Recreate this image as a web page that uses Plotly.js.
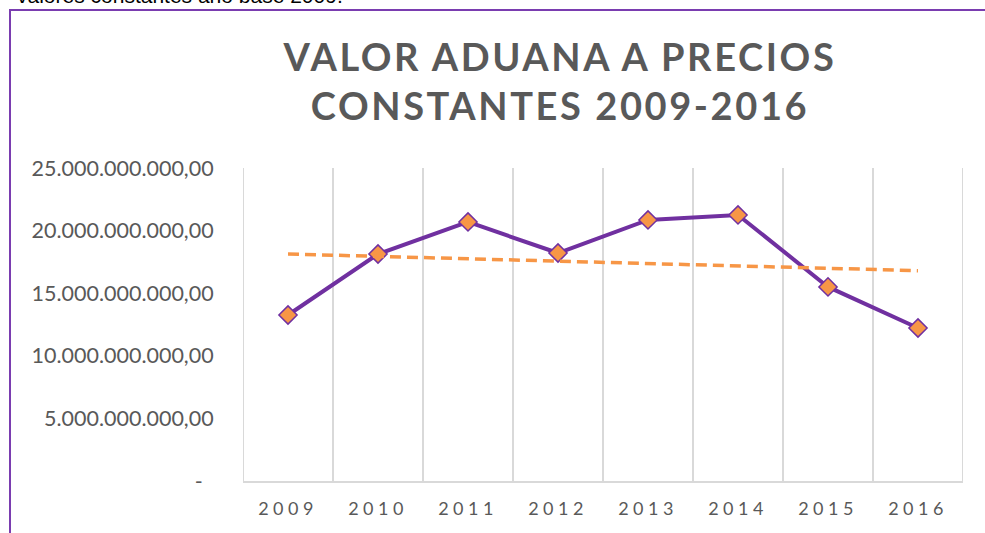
<!DOCTYPE html>
<html>
<head>
<meta charset="utf-8">
<script src="https://cdn.plot.ly/plotly-3.0.1.min.js"></script>
<style>
  html, body { margin: 0; padding: 0; background: #fff; overflow: hidden; }
  #wrap { position: relative; width: 985px; height: 533px; }
  #chart { position: absolute; left: 0; top: 0; width: 985px; height: 533px; }
  #frame { position: absolute; left: 9px; top: 9px; width: 990px; height: 540px;
           border-left: 2px solid #7a3db0; border-top: 2px solid #7a3db0; pointer-events: none; }
  #caption { position: absolute; left: 17px; top: -16px; font-family: "Liberation Sans", Arial, sans-serif;
             font-size: 21px; color: #000; white-space: nowrap; }
  .gtitle { letter-spacing: 2.6px; }
  .xtick text { letter-spacing: 4.5px; }
</style>
</head>
<body>
<div id="wrap">
  <div id="chart"></div>
  <div id="frame"></div>
  <div id="caption">valores constantes año base 2009.</div>
</div>
<script>
const years = ['2009','2010','2011','2012','2013','2014','2015','2016'];
const valorAduana = [13.26e9, 18.13e9, 20.69e9, 18.21e9, 20.85e9, 21.25e9, 15.50e9, 12.22e9];
const trendYears = ['2009','2016'];
const trendValues = [18.13e9, 16.80e9];
const yTickVals = [0, 5e9, 10e9, 15e9, 20e9, 25e9];
const yTickText = ['-\u00a0\u00a0', '5.000.000.000,00', '10.000.000.000,00', '15.000.000.000,00', '20.000.000.000,00', '25.000.000.000,00'];

const traces = [
  {
    x: years, y: valorAduana, type: 'scatter', mode: 'lines+markers',
    line: { color: '#7030a0', width: 4 },
    marker: { symbol: 'diamond', size: 14, color: '#f79646', line: { color: '#7030a0', width: 1.5 } },
    hoverinfo: 'skip'
  },
  {
    x: trendYears, y: trendValues, type: 'scatter', mode: 'lines',
    line: { color: '#f79646', width: 3.5, dash: '11px,6px' },
    hoverinfo: 'skip'
  }
];

const edgeLine = { color: '#d9d9d9', width: 2 };
const layout = {
  width: 985, height: 533,
  margin: { l: 243, r: 22, t: 168, b: 52 },
  paper_bgcolor: 'rgba(0,0,0,0)', plot_bgcolor: 'rgba(0,0,0,0)',
  showlegend: false,
  font: { family: 'Lato, "Open Sans", sans-serif', color: '#595959' },
  title: {
    text: 'VALOR ADUANA A PRECIOS<br>CONSTANTES 2009-2016',
    font: { family: 'Lato, "Open Sans", sans-serif', size: 38, weight: 'bold', color: '#595959' },
    xref: 'container', x: 560/985, xanchor: 'center',
    yref: 'container', y: 1 - 71/533, yanchor: 'top'
  },
  shapes: [
    { type: 'line', xref: 'x', yref: 'paper', x0: -0.5, x1: -0.5, y0: 0, y1: 1, line: edgeLine, layer: 'below' },
    { type: 'line', xref: 'x', yref: 'paper', x0: 7.5, x1: 7.5, y0: 0, y1: 1, line: edgeLine, layer: 'below' }
  ],
  xaxis: {
    type: 'category', range: [-0.5, 7.5],
    tickson: 'boundaries',
    showgrid: true, gridcolor: '#d9d9d9', gridwidth: 2,
    showline: true, linecolor: '#d9d9d9', linewidth: 2,
    ticks: '', ticklabelstandoff: 10,
    tickfont: { family: 'Lato, sans-serif', size: 18, color: '#595959' },
    zeroline: false, fixedrange: true
  },
  yaxis: {
    range: [0, 25e9],
    tickvals: yTickVals, ticktext: yTickText,
    showgrid: false, zeroline: false, showline: false,
    ticks: 'outside', ticklen: 24, tickcolor: 'rgba(0,0,0,0)',
    tickfont: { family: 'Lato, sans-serif', size: 21.5, color: '#595959' },
    fixedrange: true
  }
};

Plotly.newPlot('chart', traces, layout, { displayModeBar: false, staticPlot: true });
</script>
</body>
</html>
